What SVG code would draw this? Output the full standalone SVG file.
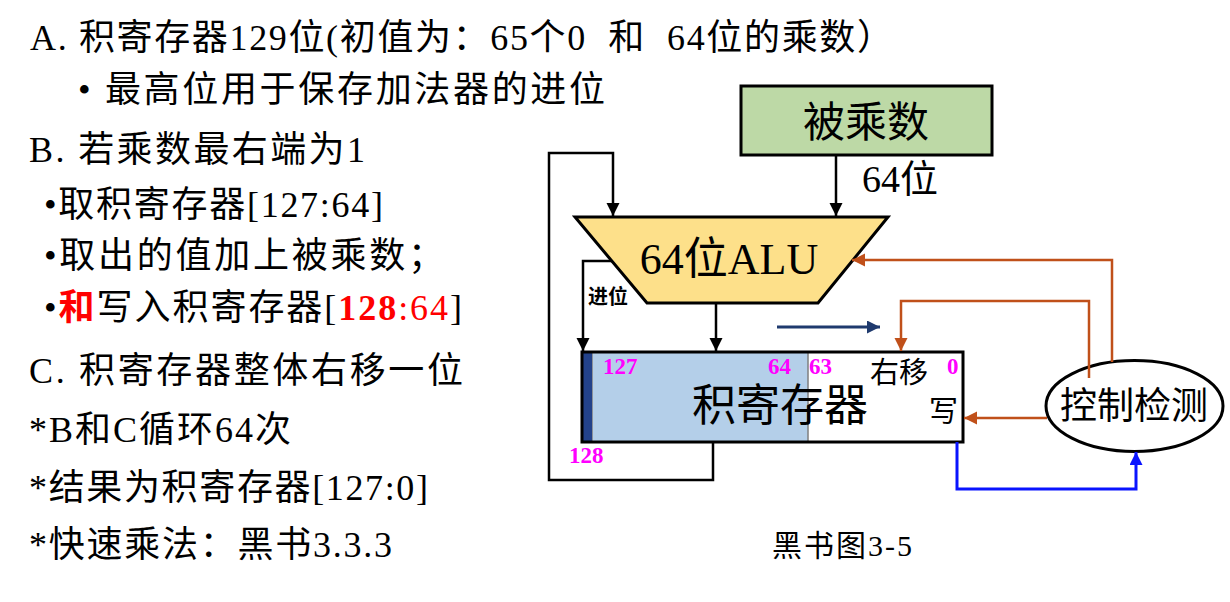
<svg xmlns="http://www.w3.org/2000/svg" width="1230" height="602" viewBox="0 0 1230 602">
<style>
.t{font-family:'Liberation Serif','Noto Sans CJK SC',serif;fill:#000}
.l{font-size:36px}
.red{fill:#ff0000}
.b{font-weight:bold}
.num{font-family:'Liberation Serif',serif;font-weight:bold;font-size:23px;fill:#ff00ff}
.k{fill:none;stroke:#000;stroke-width:2.5}
.br{fill:none;stroke:#c0501a;stroke-width:2.5}
.bl{fill:none;stroke:#0a14ff;stroke-width:3}
.nv{fill:none;stroke:#1f3a6e;stroke-width:3}
</style>
<defs>
<marker id="ak" markerUnits="userSpaceOnUse" markerWidth="14" markerHeight="14" refX="13" refY="6.5" orient="auto"><path d="M0,0 L13,6.5 L0,13 z" fill="#000"/></marker>
<marker id="abr" markerUnits="userSpaceOnUse" markerWidth="14" markerHeight="14" refX="13" refY="6.5" orient="auto"><path d="M0,0 L13,6.5 L0,13 z" fill="#c0501a"/></marker>
<marker id="abl" markerUnits="userSpaceOnUse" markerWidth="14" markerHeight="14" refX="13" refY="6.5" orient="auto"><path d="M0,0 L13,6.5 L0,13 z" fill="#0a14ff"/></marker>
<marker id="anv" markerUnits="userSpaceOnUse" markerWidth="14" markerHeight="14" refX="13" refY="6.5" orient="auto"><path d="M0,0 L13,6.5 L0,13 z" fill="#1f3a6e"/></marker>
</defs>
<rect width="1230" height="602" fill="#fff"/>

<g id="notes">
<text class="t l" x="30" y="50" xml:space="preserve" textLength="863">A. 积寄存器129位(初值为：65个0  和  64位的乘数）</text>
<text class="t l" x="78" y="102" textLength="527">• 最高位用于保存加法器的进位</text>
<text class="t l" x="29" y="162" textLength="336">B. 若乘数最右端为1</text>
<text class="t l" x="44" y="217" textLength="339">•取积寄存器[127:64]</text>
<text class="t l" x="44" y="268" textLength="400">•取出的值加上被乘数；</text>
<text class="t l" x="44" y="320" textLength="418">•<tspan class="red b">和</tspan>写入积寄存器[<tspan class="red b">128</tspan><tspan class="red">:64</tspan>]</text>
<text class="t l" x="29" y="383" textLength="434">C. 积寄存器整体右移一位</text>
<text class="t l" x="29" y="442" textLength="262">*B和C循环64次</text>
<text class="t l" x="29" y="500" textLength="399">*结果为积寄存器[127:0]</text>
<text class="t l" x="29" y="557" textLength="363">*快速乘法：黑书3.3.3</text>
</g>

<g id="multiplicand">
<rect x="741" y="86" width="251" height="69" fill="#bdd9a6" stroke="#000" stroke-width="3"/>
<text class="t" x="866" y="137" font-size="42" text-anchor="middle">被乘数</text>
</g>

<g id="alu">
<polygon points="575,217 888,217 818,303 647,303" fill="#fde08a" stroke="#000" stroke-width="3"/>
<text class="t" x="729" y="274" font-size="44" text-anchor="middle">64位ALU</text>
</g>

<g id="product-register">
<rect x="582" y="352" width="381" height="90" fill="#fff"/>
<rect x="592" y="352" width="216" height="90" fill="#b4cfe9" stroke="#7f7f7f" stroke-width="1.5"/>
<rect x="582" y="352" width="10" height="90" fill="#23428a"/>
<rect x="582" y="352" width="381" height="90" fill="none" stroke="#000" stroke-width="3"/>
<text class="num" x="603" y="374">127</text>
<text class="num" x="791" y="374" text-anchor="end">64</text>
<text class="num" x="809" y="374">63</text>
<text class="num" x="947" y="374">0</text>
<text class="t" x="870" y="383" font-size="29">右移</text>
<text class="t" x="780" y="421" font-size="44" text-anchor="middle">积寄存器</text>
<text class="t" x="929" y="422" font-size="29">写</text>
<text class="num" x="569" y="463">128</text>
</g>

<g id="control">
<ellipse cx="1134.5" cy="406" rx="88.5" ry="45.5" fill="#fff" stroke="#000" stroke-width="3"/>
<text class="t" x="1134" y="419" font-size="37" text-anchor="middle">控制检测</text>
</g>

<g id="labels">
<text class="t" x="862" y="192" font-size="38">64位</text>
<text x="588" y="304" font-family="'Liberation Sans','Noto Sans CJK SC',sans-serif" font-weight="bold" font-size="20">进位</text>
<text class="t" x="772" y="556" font-size="30" textLength="140">黑书图3-5</text>
</g>

<g id="connectors">
<path class="k" d="M836,155 L836,216" marker-end="url(#ak)"/>
<path class="k" d="M713,442 L713,480 L549,480 L549,153 L613,153 L613,216" marker-end="url(#ak)"/>
<path class="k" d="M612,261 L583,261 L583,351" marker-end="url(#ak)"/>
<path class="k" d="M716,303 L716,351" marker-end="url(#ak)"/>
<path class="nv" d="M777,327 L880,327" marker-end="url(#anv)"/>
<path class="br" d="M1112,362 L1112,260 L852,260" marker-end="url(#abr)"/>
<path class="br" d="M1089,378 L1089,301 L901,301 L901,351" marker-end="url(#abr)"/>
<path class="br" d="M1047,418 L964,418" marker-end="url(#abr)"/>
<path class="bl" d="M957,442 L957,489 L1136,489 L1136,452" marker-end="url(#abl)"/>
</g>
</svg>
